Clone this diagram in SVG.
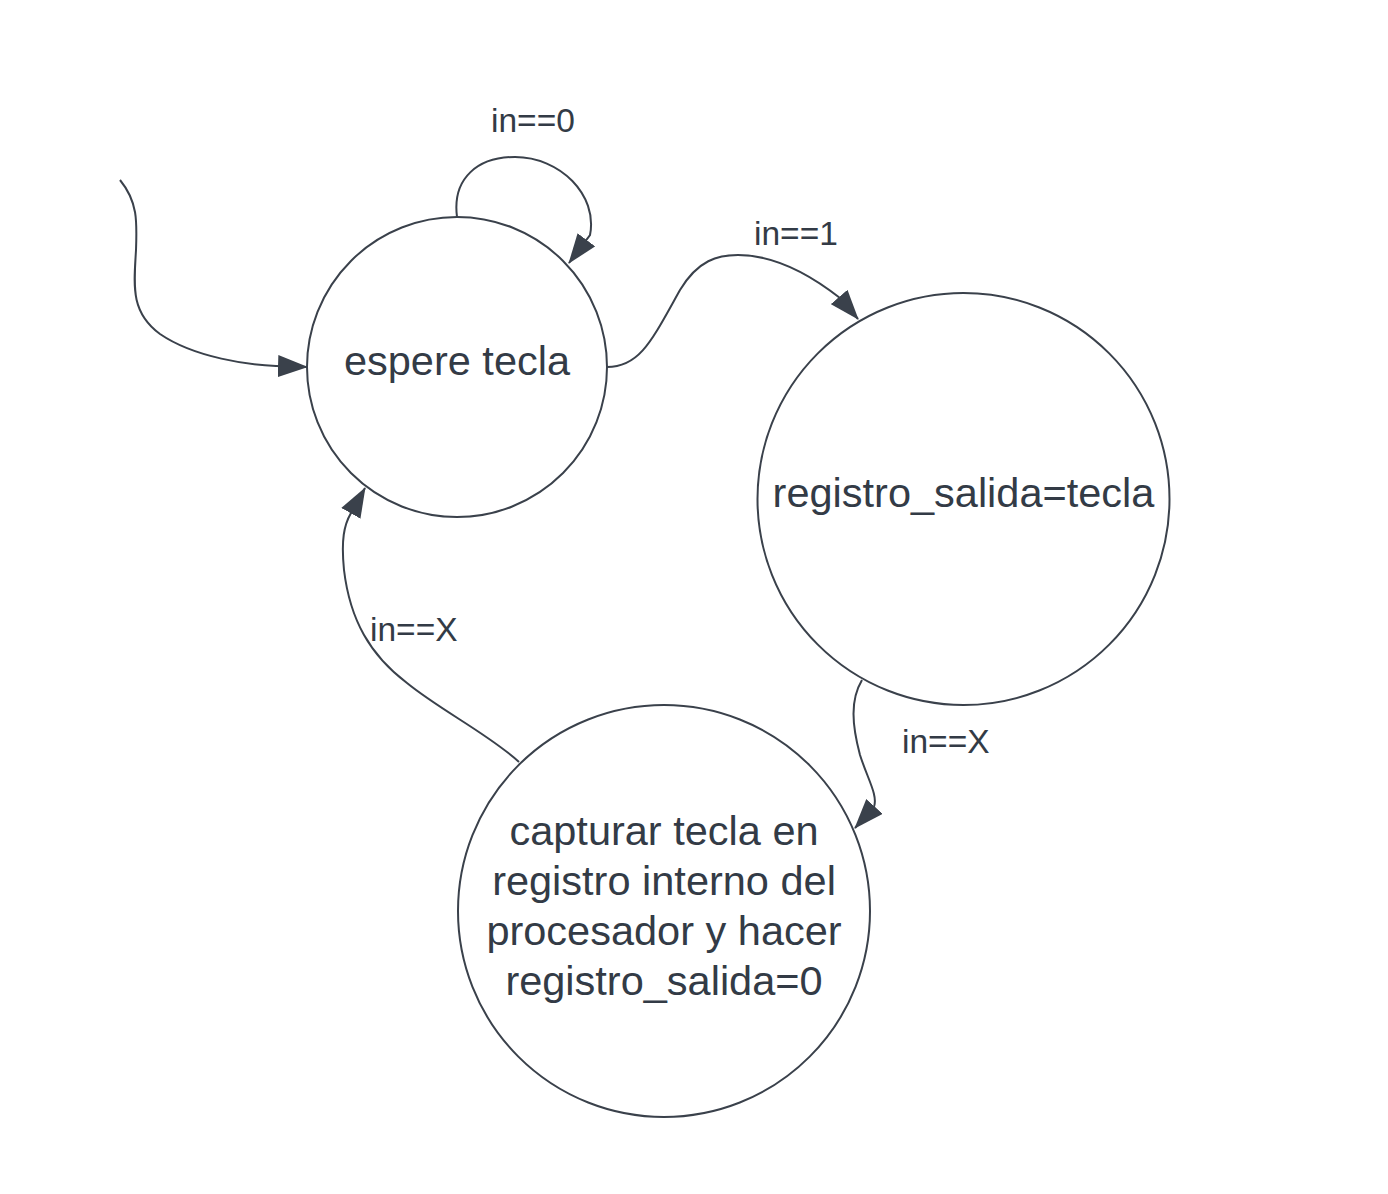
<svg xmlns="http://www.w3.org/2000/svg" width="1388" height="1194" viewBox="0 0 1388 1194">
<defs>
<marker id="arr" markerUnits="userSpaceOnUse" markerWidth="30" markerHeight="22" viewBox="0 0 30 22" refX="29" refY="11" orient="auto">
<path d="M0,0 L30,11 L0,22 z" fill="#3a414b"/>
</marker>
<style>
.node{fill:#ffffff;stroke:#3a414b;stroke-width:2}
.lbl{font-family:"Liberation Sans",Arial,sans-serif;fill:#333b46}
.big{font-size:41.5px;text-anchor:middle}
.small{font-size:33.5px}
.edge{fill:none;stroke:#3a414b;stroke-width:2;marker-end:url(#arr)}
</style>
</defs>
<rect width="1388" height="1194" fill="#ffffff"/>
<g id="connectors">
<path class="edge" d="M120,180 C138,202 137,222 136,250 C134,285 130,312 160,334 C195,358 250,365 276,366 L307,367"/>
<path class="edge" d="M457,217 C452,178 478,157 515,157 C560,157 598,195 590,235 L569,263"/>
<path class="edge" d="M607,367 C640,367 652,340 680,290 C698,260 718,255 738,255 C775,255 812,276 840,298 L858,319"/>
<path class="edge" d="M862,680 C850,700 852,725 860,755 C868,780 878,795 874,807 L855,828"/>
<path class="edge" d="M519,762 C490,735 440,710 407,683 C370,655 350,620 344,570 C341,540 344,525 351,513 L365,488"/>
<text class="lbl small" x="491" y="132">in==0</text>
<text class="lbl small" x="754" y="245">in==1</text>
<text class="lbl small" x="370" y="641">in==X</text>
<text class="lbl small" x="902" y="753">in==X</text>
</g>
<g id="espere">
<circle class="node" cx="457" cy="367" r="150"/>
<text class="lbl big" x="457" y="375">espere tecla</text>
</g>
<g id="registro">
<circle class="node" cx="963.5" cy="499" r="206"/>
<text class="lbl big" x="963.5" y="507">registro_salida=tecla</text>
</g>
<g id="capturar">
<circle class="node" cx="664" cy="911" r="206"/>
<text class="lbl big" x="664" y="845">capturar tecla en</text>
<text class="lbl big" x="664" y="895">registro interno del</text>
<text class="lbl big" x="664" y="945">procesador y hacer</text>
<text class="lbl big" x="664" y="995">registro_salida=0</text>
</g>
</svg>
